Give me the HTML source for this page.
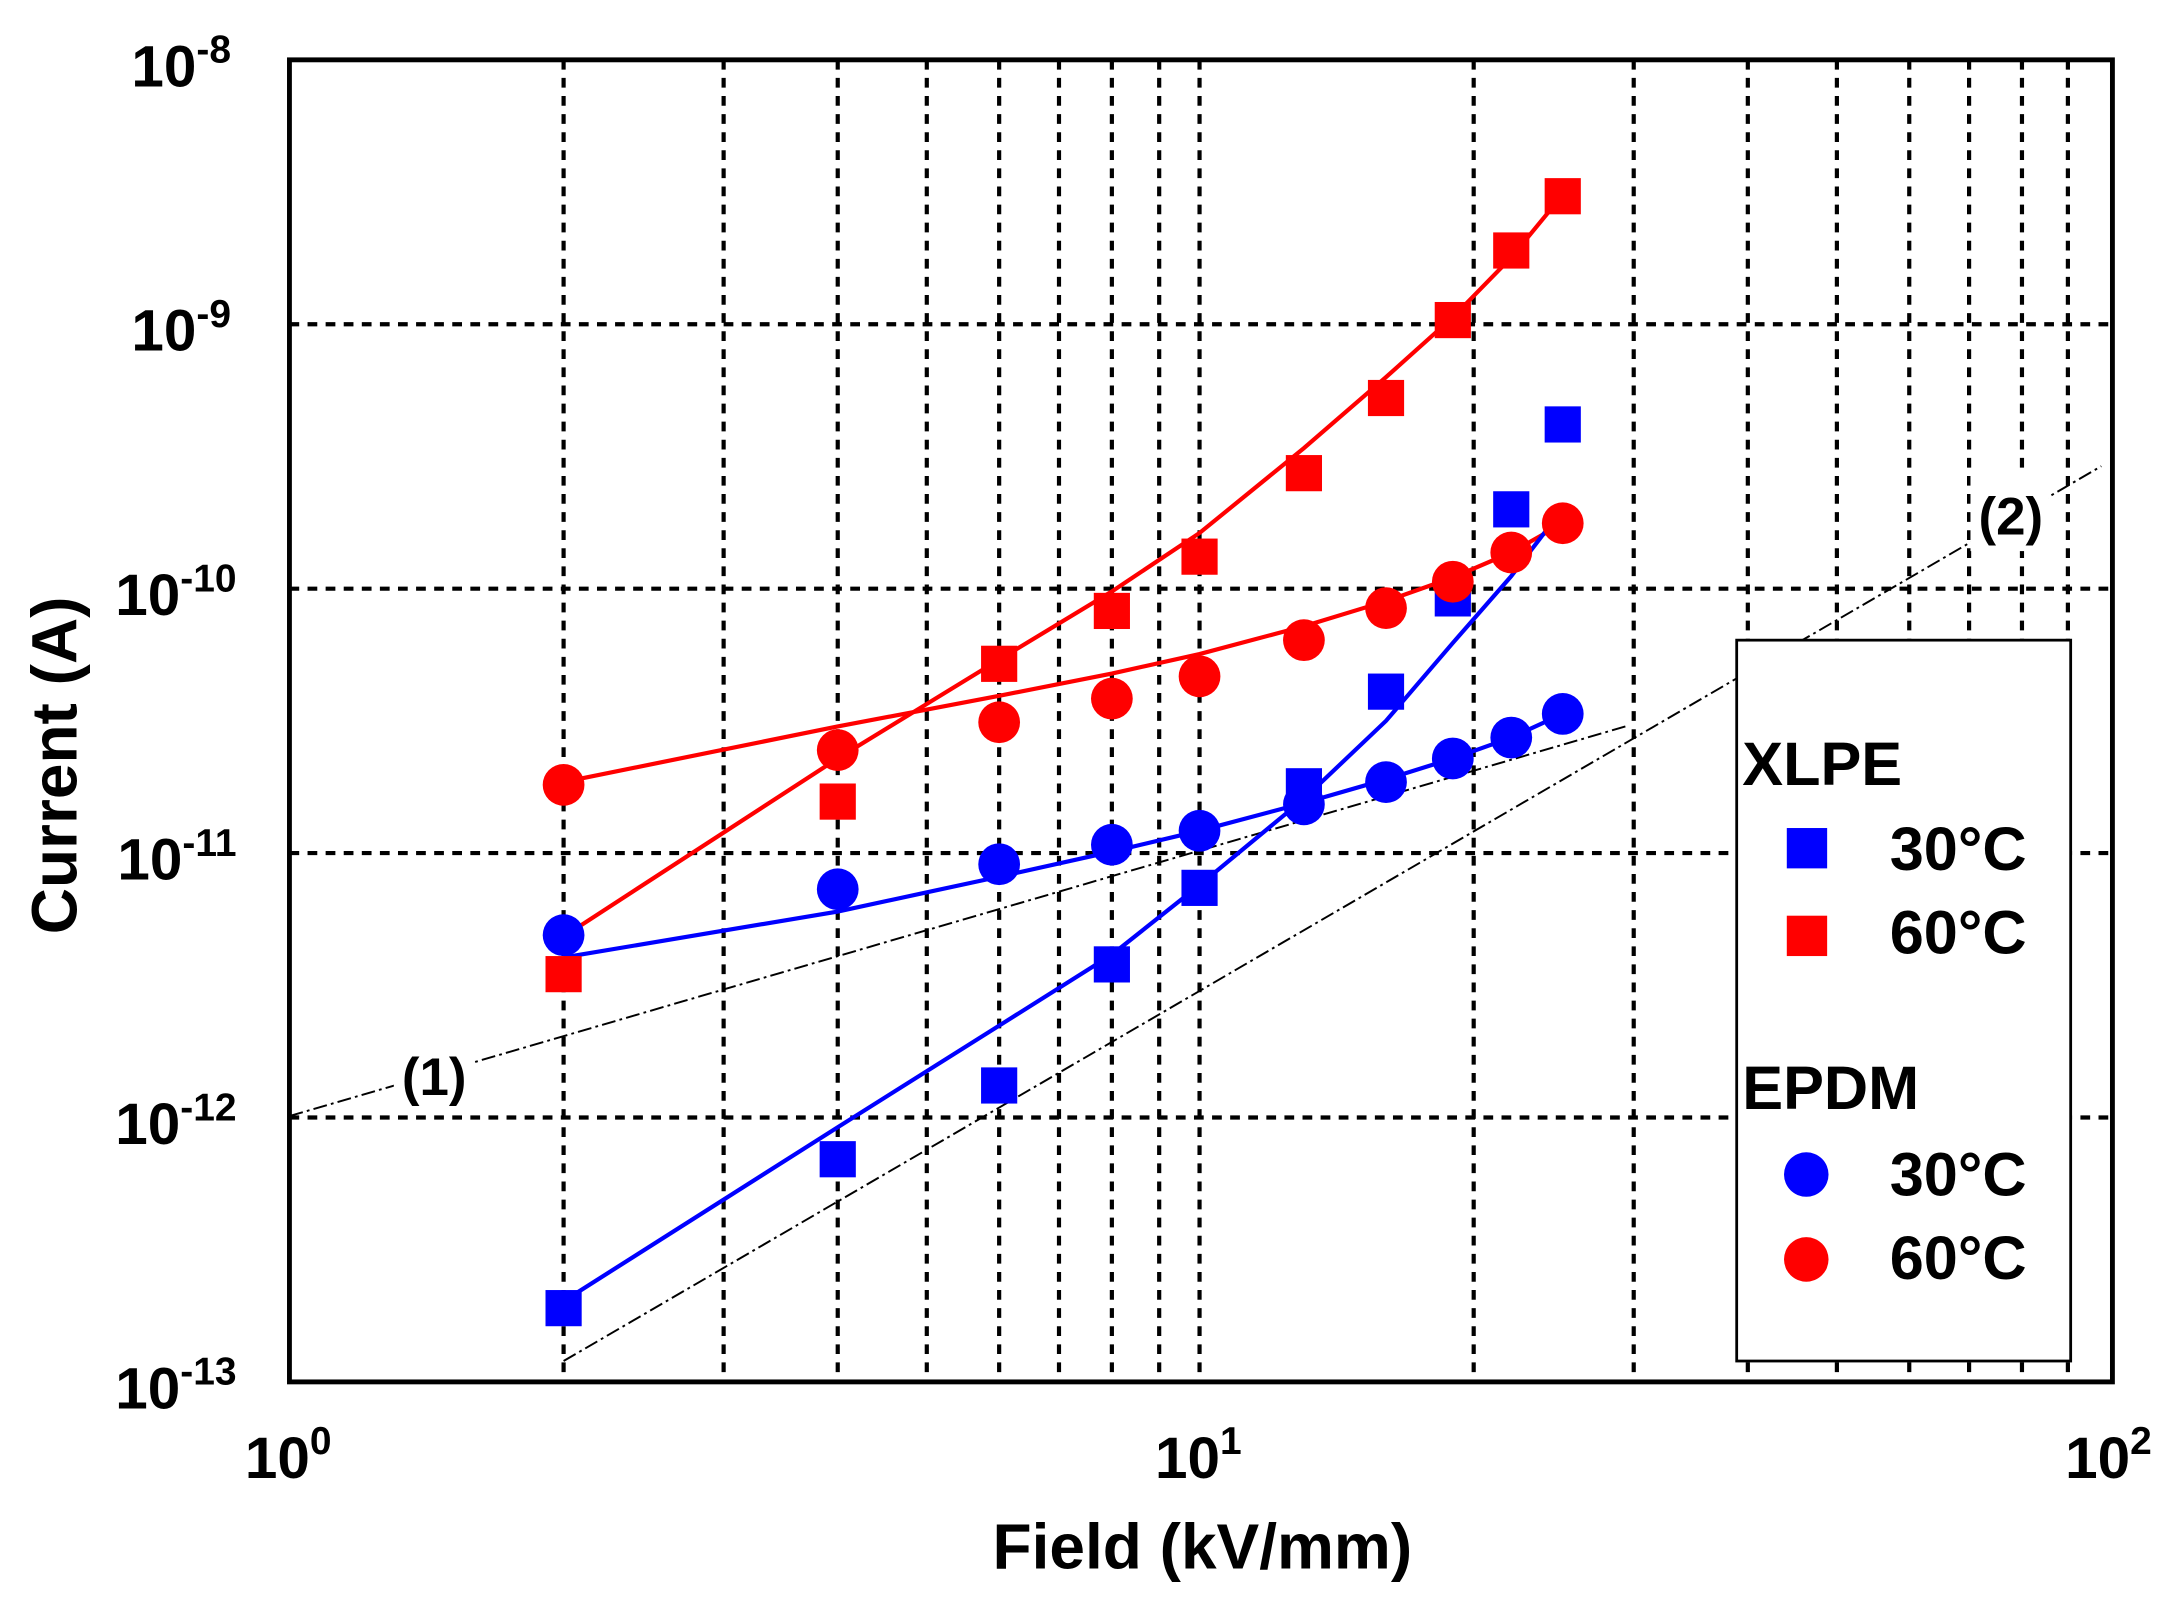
<!DOCTYPE html>
<html><head><meta charset="utf-8"><style>html,body{margin:0;padding:0;background:#fff}svg{display:block}text{font-family:"Liberation Sans",Arial,sans-serif;font-weight:bold}</style></head>
<body>
<svg width="2182" height="1604" viewBox="0 0 1568 1152.6" preserveAspectRatio="none" xmlns="http://www.w3.org/2000/svg">
<rect width="1568" height="1153" fill="#fff"/>
<g stroke="#000" stroke-width="3" stroke-dasharray="7,6" fill="none">
<path d="M405 43V993M520 43V993M602 43V993M666 43V993M718 43V993M761 43V993M799 43V993M833 43V993M862 43V993M1059 43V993M1174 43V993M1256 43V993M1320 43V993M1372 43V993M1415 43V993M1453 43V993M1486 43V993"/>
<path d="M208 233H1518M208 423H1518M208 613H1518M208 803H1518"/>
</g>
<g stroke="#000" stroke-width="1.4" stroke-dasharray="10,3,2,3" fill="none">
<path d="M208 802L1168 522"/>
<path d="M405 978L1510 335"/>
</g>
<rect x="283" y="746" width="58" height="48" fill="#fff"/>
<text x="312" y="787" font-size="38" text-anchor="middle">(1)</text>
<rect x="1416" y="338" width="56" height="58" fill="#fff"/>
<text x="1445" y="384" font-size="38" text-anchor="middle">(2)</text>
<g fill="none" stroke-width="3">
<path stroke="#f00" d="M405 673L602 545L718 474L799 425L862 383L937 322L996 271L1044 228L1086 185L1123 140"/>
<path stroke="#f00" d="M405 562L602 522L718 500L799 484L862 470L937 450L996 432L1044 415L1086 397L1123 376"/>
<path stroke="#00f" d="M405 935L602 810L718 737L799 686L862 636L937 574L996 518L1044 462L1086 414L1112 380"/>
<path stroke="#00f" d="M405 688L602 655L718 630L799 612L862 597L937 577L996 560L1044 545L1086 530L1123 513"/>
</g>
<g fill="#00f">
<rect x="392" y="927" width="26" height="26"/><rect x="589" y="820" width="26" height="26"/><rect x="705" y="767" width="26" height="26"/><rect x="786" y="680" width="26" height="26"/><rect x="849" y="625" width="26" height="26"/><rect x="924" y="552" width="26" height="26"/><rect x="983" y="484" width="26" height="26"/><rect x="1031" y="417" width="26" height="26"/><rect x="1073" y="353" width="26" height="26"/><rect x="1110" y="292" width="26" height="26"/>
<circle cx="405" cy="672" r="15"/><circle cx="602" cy="639" r="15"/><circle cx="718" cy="621" r="15"/><circle cx="799" cy="607" r="15"/><circle cx="862" cy="597" r="15"/><circle cx="937" cy="578" r="15"/><circle cx="996" cy="562" r="15"/><circle cx="1044" cy="545" r="15"/><circle cx="1086" cy="530" r="15"/><circle cx="1123" cy="513" r="15"/>
</g>
<g fill="#f00">
<rect x="392" y="687" width="26" height="26"/><rect x="589" y="563" width="26" height="26"/><rect x="705" y="464" width="26" height="26"/><rect x="786" y="426" width="26" height="26"/><rect x="849" y="387" width="26" height="26"/><rect x="924" y="327" width="26" height="26"/><rect x="983" y="273" width="26" height="26"/><rect x="1031" y="217" width="26" height="26"/><rect x="1073" y="167" width="26" height="26"/><rect x="1110" y="128" width="26" height="26"/>
<circle cx="405" cy="564" r="15"/><circle cx="602" cy="539" r="15"/><circle cx="718" cy="519" r="15"/><circle cx="799" cy="502" r="15"/><circle cx="862" cy="486" r="15"/><circle cx="937" cy="460" r="15"/><circle cx="996" cy="437" r="15"/><circle cx="1044" cy="418" r="15"/><circle cx="1086" cy="397" r="15"/><circle cx="1123" cy="376" r="15"/>
</g>
<rect x="1248" y="460" width="240" height="518" fill="#fff" stroke="#000" stroke-width="2"/>
<text x="1252" y="564" font-size="44">XLPE</text>
<rect x="1284" y="595" width="29" height="29" fill="#00f"/>
<text x="1358" y="625" font-size="44">30°C</text>
<rect x="1284" y="658" width="29" height="29" fill="#f00"/>
<text x="1358" y="685" font-size="44">60°C</text>
<text x="1252" y="797" font-size="44">EPDM</text>
<circle cx="1298" cy="844" r="16" fill="#00f"/>
<text x="1358" y="859" font-size="44">30°C</text>
<circle cx="1298" cy="905" r="16" fill="#f00"/>
<text x="1358" y="919" font-size="44">60°C</text>
<rect x="208" y="43" width="1310" height="950" fill="none" stroke="#000" stroke-width="3.5"/>
<g font-size="42" text-anchor="end">
<text x="166" y="62">10<tspan font-size="28" dy="-17">-8</tspan></text>
<text x="166" y="252">10<tspan font-size="28" dy="-17">-9</tspan></text>
<text x="170" y="442">10<tspan font-size="28" dy="-17">-10</tspan></text>
<text x="170" y="632">10<tspan font-size="28" dy="-17">-11</tspan></text>
<text x="170" y="822">10<tspan font-size="28" dy="-17">-12</tspan></text>
<text x="170" y="1012">10<tspan font-size="28" dy="-17">-13</tspan></text>
</g>
<g font-size="42">
<text x="176" y="1062">10<tspan font-size="28" dy="-17">0</tspan></text>
<text x="830" y="1062">10<tspan font-size="28" dy="-17">1</tspan></text>
<text x="1484" y="1062">10<tspan font-size="28" dy="-17">2</tspan></text>
</g>
<text x="864" y="1127" font-size="46" text-anchor="middle">Field (kV/mm)</text>
<text transform="translate(55 550) rotate(-90)" font-size="46" text-anchor="middle">Current (A)</text>
</svg>
</body></html>
